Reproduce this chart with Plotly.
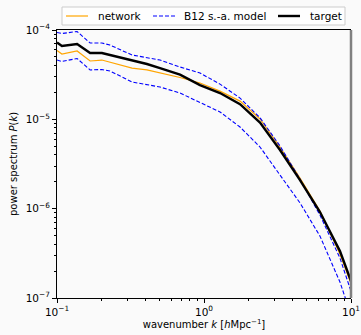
import plotly.graph_objects as go

# wavenumbers k [h/Mpc]
k = [0.100, 0.108, 0.137, 0.168, 0.202, 0.229, 0.324, 0.409, 0.502, 0.687,
     0.939, 1.285, 1.758, 2.404, 3.289, 4.499, 6.15, 8.41, 10.0]

# power spectra P(k)
p_target = [7.24e-5, 6.62e-5, 6.97e-5, 5.52e-5, 5.52e-5, 5.25e-5, 4.50e-5, 4.16e-5, 3.75e-5, 3.17e-5,
            2.42e-5, 1.97e-5, 1.48e-5, 9.20e-6, 4.53e-6, 2.09e-6, 9.16e-7, 3.35e-7, 1.55e-7]
p_network = [5.89e-5, 5.38e-5, 5.82e-5, 4.50e-5, 4.61e-5, 4.38e-5, 3.75e-5, 3.57e-5, 3.30e-5, 2.94e-5,
             2.55e-5, 2.07e-5, 1.60e-5, 1.01e-5, 4.90e-6, 2.20e-6, 9.40e-7, 3.10e-7, 1.45e-7]
p_b12_upper = [9.37e-5, 9.14e-5, 9.62e-5, 7.15e-5, 7.15e-5, 6.79e-5, 5.25e-5, 4.92e-5, 4.61e-5, 3.85e-5,
               3.30e-5, 2.48e-5, 1.73e-5, 1.04e-5, 5.03e-6, 2.14e-6, 8.48e-7, 2.80e-7, 1.19e-7]
p_b12_lower = [4.61e-5, 4.44e-5, 4.80e-5, 3.57e-5, 3.61e-5, 3.48e-5, 2.62e-5, 2.45e-5, 2.30e-5, 1.97e-5,
               1.56e-5, 1.21e-5, 8.20e-6, 4.90e-6, 2.38e-6, 1.16e-6, 4.93e-7, 1.51e-7, 6.44e-8]

# axis ticks
x_ticks = [0.1, 1, 10]
x_ticktext = ["10<sup>−1</sup>", "10<sup>0</sup>", "10<sup>1</sup>"]
x_minor = [0.2, 0.3, 0.4, 0.5, 0.6, 0.7, 0.8, 0.9, 2, 3, 4, 5, 6, 7, 8, 9]
y_ticks = [1e-7, 1e-6, 1e-5, 1e-4]
y_ticktext = ["10<sup>−7</sup>", "10<sup>−6</sup>", "10<sup>−5</sup>", "10<sup>−4</sup>"]
y_minor = [m * 10.0 ** e for e in (-7, -6, -5) for m in range(2, 10)]

FONT = "DejaVu Sans"
BG = "#fafafa"
ORANGE = "#ffa500"
BLUE = "#0000ff"
DASH = "4px,2px"

series = [
    dict(name="network", y=p_network, line=dict(color=ORANGE, width=1.2)),
    dict(name="B12 s.-a. model", y=p_b12_upper, line=dict(color=BLUE, width=1.1, dash=DASH)),
    dict(name="B12 s.-a. model", y=p_b12_lower, line=dict(color=BLUE, width=1.1, dash=DASH)),
    dict(name="target", y=p_target, line=dict(color="black", width=2.4)),
]

fig = go.Figure()
for s in series:
    fig.add_trace(go.Scatter(x=k, y=s["y"], mode="lines", name=s["name"],
                             line=s["line"], showlegend=False))

axis_common = dict(
    type="log", showgrid=False, zeroline=False,
    showline=True, linecolor="black", linewidth=1,
    ticks="outside", ticklen=4, tickwidth=1, tickcolor="black",
    tickfont=dict(family=FONT, size=10.5, color="black"),
)

fig.update_xaxes(**axis_common, range=[-1, 1], mirror=True,
                 tickmode="array", tickvals=x_ticks, ticktext=x_ticktext,
                 minor=dict(tickmode="array", tickvals=x_minor, ticks="outside",
                            ticklen=2, tickwidth=0.8, tickcolor="black", showgrid=False),
                 title=dict(text="wavenumber <i>k</i> [<i>h</i>Mpc<sup>−1</sup>]",
                            font=dict(family=FONT, size=10, color="black"), standoff=4))
fig.update_yaxes(**axis_common, range=[-7, -4],
                 tickmode="array", tickvals=y_ticks, ticktext=y_ticktext,
                 minor=dict(tickmode="array", tickvals=y_minor, ticks="outside",
                            ticklen=2, tickwidth=0.8, tickcolor="black", showgrid=False))

# y-axis title
fig.add_annotation(text="power spectrum <i>P</i>(<i>k</i>)", textangle=-90,
                   xref="paper", yref="paper", x=0, y=0.5, xanchor="center", yanchor="middle",
                   xshift=-44, showarrow=False,
                   font=dict(family=FONT, size=10, color="black"))

# right frame edge
fig.add_shape(type="line", xref="paper", yref="paper", x0=1, x1=1, y0=0, y1=1,
              line=dict(color="#808080", width=2.5))

# legend strip above the axes: frame, sample lines and labels (offsets in px from top-left corner)
fig.add_shape(type="rect", xref="paper", yref="paper", xsizemode="pixel", ysizemode="pixel",
              xanchor=0, yanchor=1, x0=5, x1=288, y0=5, y1=23,
              line=dict(color="#cccccc", width=1), fillcolor="rgba(255,255,255,0.8)")
legend_entries = [
    ("network", dict(color=ORANGE, width=1.2), 9, 39),
    ("B12 s.-a. model", dict(color=BLUE, width=1.1, dash=DASH), 96, 125),
    ("target", dict(color="black", width=2.4), 221, 251),
]
for label, line, sx, tx in legend_entries:
    fig.add_shape(type="line", xref="paper", yref="paper", xsizemode="pixel", ysizemode="pixel",
                  xanchor=0, yanchor=1, x0=sx, x1=sx + 22, y0=14, y1=14, line=line)
    fig.add_annotation(text=label, xref="paper", yref="paper", x=0, y=1,
                       xshift=tx, yshift=14, xanchor="left", yanchor="middle",
                       showarrow=False, font=dict(family=FONT, size=10.5, color="black"))

fig.update_layout(
    width=361, height=335,
    margin=dict(l=57, r=10, t=30, b=37, autoexpand=False),
    paper_bgcolor=BG, plot_bgcolor=BG,
    font=dict(family=FONT, size=10, color="black"),
    showlegend=False,
)

fig.write_html("out.html")
